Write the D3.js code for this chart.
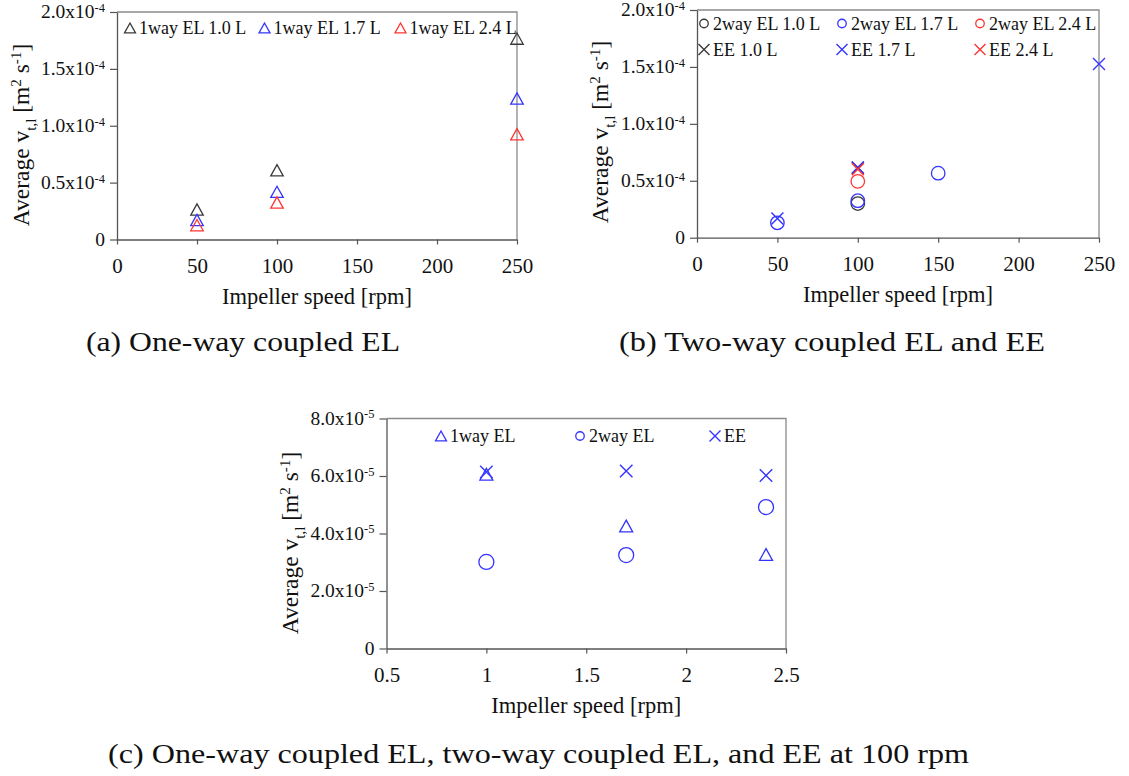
<!DOCTYPE html>
<html>
<head>
<meta charset="utf-8">
<script src="https://cdn.jsdelivr.net/npm/d3@7"></script>
<style>
  body { margin: 0; background: #fff; }
</style>
</head>
<body>
<div id="chart"></div>
<script>

// ---- data ----

// (a) one-way coupled EL
const speedsA = [50, 100, 250];
const oneWay10 = [0.264e-4, 0.609e-4, 1.766e-4];
const oneWay17 = [0.172e-4, 0.419e-4, 1.239e-4];
const oneWay24 = [0.126e-4, 0.325e-4, 0.925e-4];

// (b) two-way coupled EL and EE
const speedsTwoWay10 = [100];
const twoWay10 = [0.300e-4];
const speedsTwoWay17 = [50, 100, 150];
const twoWay17 = [0.131e-4, 0.325e-4, 0.567e-4];
const speedsTwoWay24 = [100];
const twoWay24 = [0.495e-4];
const speedsEE10 = [100];
const ee10 = [0.614e-4];
const speedsEE17 = [50, 100, 250];
const ee17 = [0.169e-4, 0.617e-4, 1.526e-4];
const speedsEE24 = [100];
const ee24 = [0.602e-4];

// (c) all three at 100 rpm, against volume
const volumes = [1.0, 1.7, 2.4];
const oneWay100 = [6.06e-5, 4.26e-5, 3.27e-5];
const twoWay100 = [3.01e-5, 3.25e-5, 4.92e-5];
const ee100 = [6.14e-5, 6.17e-5, 6.02e-5];

const speedTicks = [0, 50, 100, 150, 200, 250];
const nuTicksAB = [0, 0.5e-4, 1.0e-4, 1.5e-4, 2.0e-4];
const volumeTicks = [0.5, 1, 1.5, 2, 2.5];
const nuTicksC = [0, 2e-5, 4e-5, 6e-5, 8e-5];

const captions = [
  "(a) One-way coupled EL",
  "(b) Two-way coupled EL and EE",
  "(c) One-way coupled EL, two-way coupled EL, and EE at 100 rpm"
];

// ---- drawing ----

const BLACK = "#3a3a3a", BLUE = "#3434ff", RED = "#ff3434";
const SERIF = "'Liberation Serif', 'Times New Roman', serif";

const W = 1129, H = 776;
const svg = d3.select("#chart").append("svg")
    .attr("width", W).attr("height", H)
    .style("font-family", SERIF);

// text with super/subscripts: parts = [[string, 0 | 1 (sup) | -1 (sub)]]
function rich(text, parts, F) {
    let cur = 0;
    parts.forEach(([s, k]) => {
        const target = k === 1 ? -0.33 * F : k === -1 ? 0.3 * F : 0;
        text.append("tspan")
            .attr("dy", target - cur)
            .attr("font-size", k ? 0.64 * F : F)
            .text(s);
        cur = target;
    });
}

function marker(g, shape, cx, cy, s, color) {
    if (shape === "tri") {
        g.append("path")
            .attr("d", `M${cx},${cy - s * 0.45}L${cx + s / 2},${cy + s * 0.45}L${cx - s / 2},${cy + s * 0.45}Z`)
            .attr("fill", "none").attr("stroke", color).attr("stroke-width", 1.3);
    } else if (shape === "circle") {
        g.append("circle").attr("cx", cx).attr("cy", cy).attr("r", s / 2)
            .attr("fill", "none").attr("stroke", color).attr("stroke-width", 1.3);
    } else {
        const h = s / 2;
        g.append("path")
            .attr("d", `M${cx - h},${cy - h}L${cx + h},${cy + h}M${cx - h},${cy + h}L${cx + h},${cy - h}`)
            .attr("fill", "none").attr("stroke", color).attr("stroke-width", 1.4);
    }
}

function panel(p) {
    const g = svg.append("g");
    const x = d3.scaleLinear().domain(p.xDomain).range([p.left, p.right]);
    const y = d3.scaleLinear().domain(p.yDomain).range([p.bottom, p.top]);

    // frame (top and right)
    g.append("path")
        .attr("d", `M${p.left},${p.top}H${p.right}V${p.bottom}`)
        .attr("fill", "none").attr("stroke", "#8a8a8a").attr("stroke-width", 1.3);

    const xAxis = g.append("g")
        .attr("transform", `translate(0,${p.bottom})`)
        .call(d3.axisBottom(x).tickValues(p.xTicks).tickSize(5).tickSizeOuter(0)
            .tickFormat(d => String(d)));
    xAxis.selectAll("text").attr("font-size", 21).attr("dy", 0).attr("y", 33)
        .attr("font-family", SERIF).attr("fill", "#111");

    const TF = 19.5;
    const yAxis = g.append("g")
        .attr("transform", `translate(${p.left},0)`)
        .call(d3.axisLeft(y).tickValues(p.yTicks).tickSize(7).tickSizeOuter(0)
            .tickFormat(() => ""));
    yAxis.selectAll(".tick text").each(function (d) {
        const t = d3.select(this).attr("x", -12).attr("dy", null).attr("y", 0.3 * TF)
            .attr("font-size", TF).attr("font-family", SERIF).attr("fill", "#111");
        if (d === 0) { t.append("tspan").text("0"); return; }
        const m = (d / Math.pow(10, p.exp)).toFixed(1);
        rich(t, [[m + "x10", 0], ["-" + (-p.exp), 1]], TF);
    });

    [xAxis, yAxis].forEach(a => {
        a.select(".domain").attr("stroke", "#555").attr("stroke-width", 1.3);
        a.selectAll(".tick line").attr("stroke", "#555").attr("stroke-width", 1.2);
    });

    // axis titles
    g.append("text")
        .attr("x", (p.left + p.right) / 2).attr("y", p.bottom + 64)
        .attr("text-anchor", "middle").attr("font-size", 22.5).attr("fill", "#111")
        .text("Impeller speed [rpm]");

    const yt = g.append("text")
        .attr("transform", `translate(${p.yTitleX},${p.yTitleY}) rotate(-90)`)
        .attr("text-anchor", "middle").attr("font-size", 23.5).attr("fill", "#111");
    rich(yt, [["Average v", 0], ["t,l", -1], [" [m", 0], ["2", 1], [" s", 0], ["-1", 1], ["]", 0]], 23.5);

    // data
    p.series.forEach(s => {
        s.x.forEach((xv, i) => marker(g, s.shape, x(xv), y(s.y[i]), s.size, s.color));
    });

    // legend
    p.series.forEach((s, i) => {
        const [lx, ly] = p.legend[i];
        marker(g, s.shape, lx, ly, s.legendSize, s.color);
        g.append("text").attr("x", lx + 9).attr("y", ly + 6)
            .attr("font-size", 18).attr("fill", "#111").text(s.label);
    });
}

panel({
    left: 117, right: 517, top: 12, bottom: 239.5,
    xDomain: [0, 250], xTicks: speedTicks,
    yDomain: [0, 2e-4], yTicks: nuTicksAB, exp: -4,
    yTitleX: 29, yTitleY: 135,
    series: [
        { label: "1way EL 1.0 L", x: speedsA, y: oneWay10, shape: "tri", color: BLACK, size: 12.5, legendSize: 11 },
        { label: "1way EL 1.7 L", x: speedsA, y: oneWay17, shape: "tri", color: BLUE, size: 12.5, legendSize: 11 },
        { label: "1way EL 2.4 L", x: speedsA, y: oneWay24, shape: "tri", color: RED, size: 12.5, legendSize: 11 }
    ],
    legend: [[130, 28], [264.5, 28], [400.5, 28]]
});

panel({
    left: 697, right: 1099, top: 10, bottom: 237.7,
    xDomain: [0, 250], xTicks: speedTicks,
    yDomain: [0, 2e-4], yTicks: nuTicksAB, exp: -4,
    yTitleX: 608, yTitleY: 132,
    series: [
        { label: "2way EL 1.0 L", x: speedsTwoWay10, y: twoWay10, shape: "circle", color: BLACK, size: 13.5, legendSize: 8.5 },
        { label: "2way EL 1.7 L", x: speedsTwoWay17, y: twoWay17, shape: "circle", color: BLUE, size: 13.5, legendSize: 8.5 },
        { label: "2way EL 2.4 L", x: speedsTwoWay24, y: twoWay24, shape: "circle", color: RED, size: 13.5, legendSize: 8.5 },
        { label: "EE 1.0 L", x: speedsEE10, y: ee10, shape: "cross", color: BLACK, size: 12, legendSize: 11 },
        { label: "EE 1.7 L", x: speedsEE17, y: ee17, shape: "cross", color: BLUE, size: 12, legendSize: 11 },
        { label: "EE 2.4 L", x: speedsEE24, y: ee24, shape: "cross", color: RED, size: 12, legendSize: 11 }
    ],
    legend: [[704, 23.5], [842, 23.5], [980, 23.5], [704, 49.5], [842, 49.5], [980, 49.5]]
});

panel({
    left: 386.5, right: 786, top: 418.5, bottom: 648.5,
    xDomain: [0.5, 2.5], xTicks: volumeTicks,
    yDomain: [0, 8e-5], yTicks: nuTicksC, exp: -5,
    yTitleX: 298, yTitleY: 543,
    series: [
        { label: "1way EL", x: volumes, y: oneWay100, shape: "tri", color: BLUE, size: 13, legendSize: 11 },
        { label: "2way EL", x: volumes, y: twoWay100, shape: "circle", color: BLUE, size: 15, legendSize: 8.5 },
        { label: "EE", x: volumes, y: ee100, shape: "cross", color: BLUE, size: 12.5, legendSize: 11 }
    ],
    legend: [[441, 436], [580, 436], [715, 436]]
});

// sub-figure captions (x range of each as in the figure)
[[86, 400, 351], [619, 1045, 351], [108, 969, 763]].forEach(([x0, x1, by], i) => {
    svg.append("text")
        .attr("x", x0).attr("y", by)
        .attr("textLength", x1 - x0)
        .attr("lengthAdjust", "spacingAndGlyphs")
        .attr("font-family", SERIF)
        .attr("font-size", 28)
        .attr("fill", "#111")
        .text(captions[i]);
});
</script>
</body>
</html>
